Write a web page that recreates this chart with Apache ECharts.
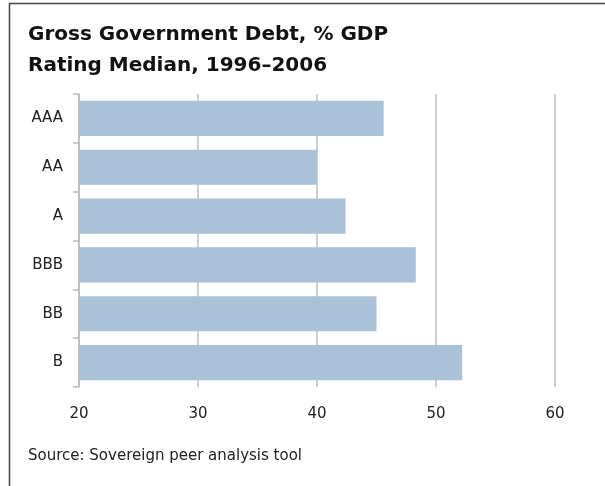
<!DOCTYPE html>
<html>
<head>
<meta charset="utf-8">
<script src="https://cdn.jsdelivr.net/npm/echarts@6/dist/echarts.min.js"></script>
<style>
  html, body { margin: 0; padding: 0; background: #fff; }
  #chart { width: 605px; height: 486px; }
</style>
</head>
<body>
<div id="chart"></div>
<script>
// ratings, top to bottom
var ratings = ['AAA', 'AA', 'A', 'BBB', 'BB', 'B'];
// median gross government debt, % of GDP
var debtValues = [45.6, 40.0, 42.4, 48.3, 45.0, 52.2];
// x axis ticks
var xTicks = [20, 30, 40, 50, 60];

var chart = echarts.init(document.getElementById('chart'));

var option = {
  backgroundColor: '#fff',
  textStyle: { fontFamily: 'DejaVu Sans' },
  title: [
    {
      text: 'Gross Government Debt, % GDP\nRating Median, 1996\u20132006',
      left: 23,
      top: 14,
      textStyle: {
        fontFamily: 'DejaVu Sans',
        fontSize: 20,
        fontWeight: 'bold',
        color: '#111',
        lineHeight: 31
      }
    },
    {
      text: 'Source: Sovereign peer analysis tool',
      left: 23,
      top: 444,
      textStyle: {
        fontFamily: 'DejaVu Sans',
        fontSize: 15,
        fontWeight: 'normal',
        color: '#222'
      }
    }
  ],
  // the frame: line on the left and along the top
  graphic: [
    {
      type: 'polyline',
      shape: { points: [[9.5, 486], [9.5, 3.5], [605, 3.5]] },
      style: { stroke: '#444', lineWidth: 1.5, fill: null }
    }
  ],
  grid: {
    left: 79,
    right: 50,
    top: 94,
    bottom: 99
  },
  xAxis: {
    type: 'value',
    min: xTicks[0],
    max: xTicks[xTicks.length - 1],
    interval: 10,
    axisLine: { show: false },
    axisTick: { show: false },
    axisLabel: {
      margin: 20,
      fontSize: 15,
      color: '#222',
      fontFamily: 'DejaVu Sans'
    },
    splitLine: {
      show: true,
      lineStyle: { color: '#cfcfcf', width: 2 }
    }
  },
  yAxis: {
    type: 'category',
    data: ratings,
    inverse: true,
    axisLine: {
      show: true,
      lineStyle: { color: '#bbb', width: 1.5 }
    },
    axisTick: {
      show: true,
      length: 6,
      lineStyle: { color: '#bbb', width: 1.5 }
    },
    axisLabel: {
      margin: 16,
      fontSize: 15,
      color: '#222',
      fontFamily: 'DejaVu Sans'
    }
  },
  series: [
    {
      name: 'Gross Government Debt',
      type: 'bar',
      data: debtValues,
      barCategoryGap: '28%',
      itemStyle: { color: '#aac2d7' },
      silent: true
    }
  ]
};

chart.setOption(option);
</script>
</body>
</html>
